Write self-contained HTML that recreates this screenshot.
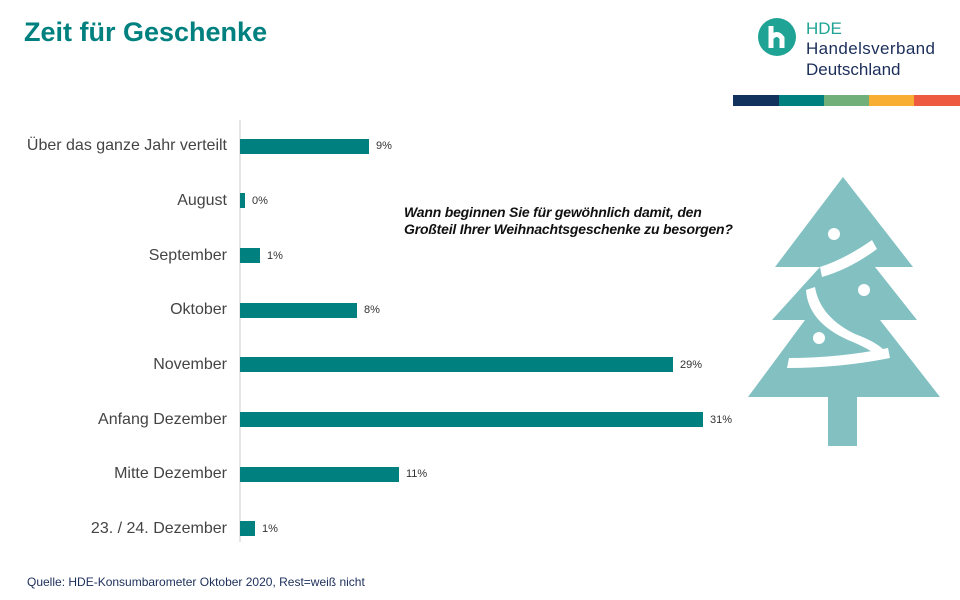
<html><head><style>
body{margin:0;width:960px;height:600px;background:#fff;font-family:"Liberation Sans",sans-serif;position:relative;overflow:hidden}
.t{position:absolute;left:24px;top:17px;font-size:27px;font-weight:bold;color:#00807f}
.l{position:absolute;right:733px;font-size:16px;color:#444;white-space:nowrap}
.b{position:absolute;left:240px;height:15px;background:#00807f}
.v{position:absolute;font-size:11px;color:#333}
</style></head><body>
<div class="t">Zeit für Geschenke</div>
<svg style="position:absolute;left:0;top:0" width="960" height="600">
<circle cx="777" cy="37" r="19" fill="#1fa394"/>
<path d="M771 26v22M771 38q6-7 11 0v10" stroke="#fff" stroke-width="5" fill="none"/>
<text x="806" y="34" font-size="17" fill="#1fa394" font-family="Liberation Sans">HDE</text>
<text x="806" y="54" font-size="17" fill="#1b2e5a" font-family="Liberation Sans" textLength="129">Handelsverband</text>
<text x="806" y="75" font-size="17" fill="#1b2e5a" font-family="Liberation Sans">Deutschland</text>
<rect x="733" y="95" width="46" height="11" fill="#10325d"/>
<rect x="779" y="95" width="45" height="11" fill="#00807f"/>
<rect x="824" y="95" width="45" height="11" fill="#72b07a"/>
<rect x="869" y="95" width="45" height="11" fill="#f8ae33"/>
<rect x="914" y="95" width="46" height="11" fill="#ed5a3f"/>
<line x1="240" y1="120" x2="240" y2="542" stroke="#ccc"/>
<g fill="#82c0c2">
<polygon points="843,177 913,267 875,267 917,320 880,320 940,397 748,397 805,320 772,320 820,267 775,267"/>
<rect x="828" y="396" width="29" height="50"/>
</g>
<g fill="#fff">
<circle cx="834" cy="234" r="6"/><circle cx="864" cy="290" r="6"/><circle cx="819" cy="338" r="6"/>
<path d="M820 267q25-8 52-27l5 9q-27 20-55 28z"/>
<path d="M815 287q5 30 40 47q22 8 31 18l-8 4q-10-8-30-16q-40-18-42-50z"/>
<path d="M789 358q50 0 99-10l2 10q-50 10-103 10z"/>
</g>
</svg>
<div style="position:absolute;left:404px;top:204px;font-size:14px;font-weight:bold;font-style:italic;line-height:17px;color:#111;white-space:nowrap;letter-spacing:-0.2px">Wann beginnen Sie für gewöhnlich damit, den<br>Großteil Ihrer Weihnachtsgeschenke zu besorgen?</div>
<div class="l" style="top:137px">Über das ganze Jahr verteilt</div><div class="b" style="top:139px;width:129px"></div><div class="v" style="left:376px;top:140px">9%</div>
<div class="l" style="top:192px">August</div><div class="b" style="top:193px;width:5px"></div><div class="v" style="left:252px;top:195px">0%</div>
<div class="l" style="top:247px">September</div><div class="b" style="top:248px;width:20px"></div><div class="v" style="left:267px;top:250px">1%</div>
<div class="l" style="top:301px">Oktober</div><div class="b" style="top:303px;width:117px"></div><div class="v" style="left:364px;top:304px">8%</div>
<div class="l" style="top:356px">November</div><div class="b" style="top:357px;width:433px"></div><div class="v" style="left:680px;top:359px">29%</div>
<div class="l" style="top:411px">Anfang Dezember</div><div class="b" style="top:412px;width:463px"></div><div class="v" style="left:710px;top:414px">31%</div>
<div class="l" style="top:465px">Mitte Dezember</div><div class="b" style="top:467px;width:159px"></div><div class="v" style="left:406px;top:468px">11%</div>
<div class="l" style="top:520px">23. / 24. Dezember</div><div class="b" style="top:521px;width:15px"></div><div class="v" style="left:262px;top:523px">1%</div>
<div style="position:absolute;left:27px;top:575px;font-size:12px;color:#1b2e5a">Quelle: HDE-Konsumbarometer Oktober 2020, Rest=weiß nicht</div>
</body></html>
